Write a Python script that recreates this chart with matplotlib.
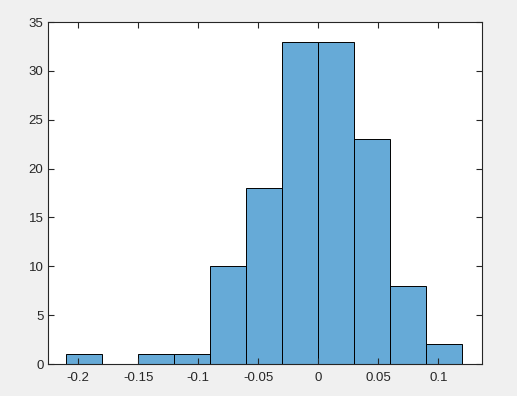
import numpy as np
import matplotlib.pyplot as plt

# histogram bins (edges) and counts
bin_edges = [-0.21, -0.18, -0.15, -0.12, -0.09, -0.06, -0.03, 0.0, 0.03, 0.06, 0.09, 0.12]
counts = [1, 0, 1, 1, 10, 18, 33, 33, 23, 8, 2]
x_ticks = [-0.2, -0.15, -0.1, -0.05, 0, 0.05, 0.1]
x_tick_labels = ['-0.2', '-0.15', '-0.1', '-0.05', '0', '0.05', '0.1']
y_ticks = [0, 5, 10, 15, 20, 25, 30, 35]

plt.rcParams['font.family'] = ['Liberation Sans', 'DejaVu Sans']
plt.rcParams['axes.unicode_minus'] = False

fig = plt.figure(figsize=(5.17, 3.96), dpi=100, facecolor='#f0f0f0')
ax = fig.add_axes([0.0934, 0.0808, 0.8383, 0.8636])

# plot
ax.hist(bin_edges[:-1], bins=bin_edges, weights=counts,
        facecolor='#66aad7', edgecolor='black', linewidth=0.7)

ax.set_xlim(-0.225, 0.136)
ax.set_ylim(0, 35)
ax.set_xticks(x_ticks)
ax.set_xticklabels(x_tick_labels)
ax.set_yticks(y_ticks)

for s in ax.spines.values():
    s.set_color('#262626')
    s.set_linewidth(0.8)
ax.tick_params(direction='in', length=4, width=0.8, color='#262626',
               labelcolor='#262626', labelsize=9.5, top=True, right=True)
ax.tick_params(axis='x', pad=6)

fig.savefig('out.png', dpi=100, facecolor=fig.get_facecolor())
